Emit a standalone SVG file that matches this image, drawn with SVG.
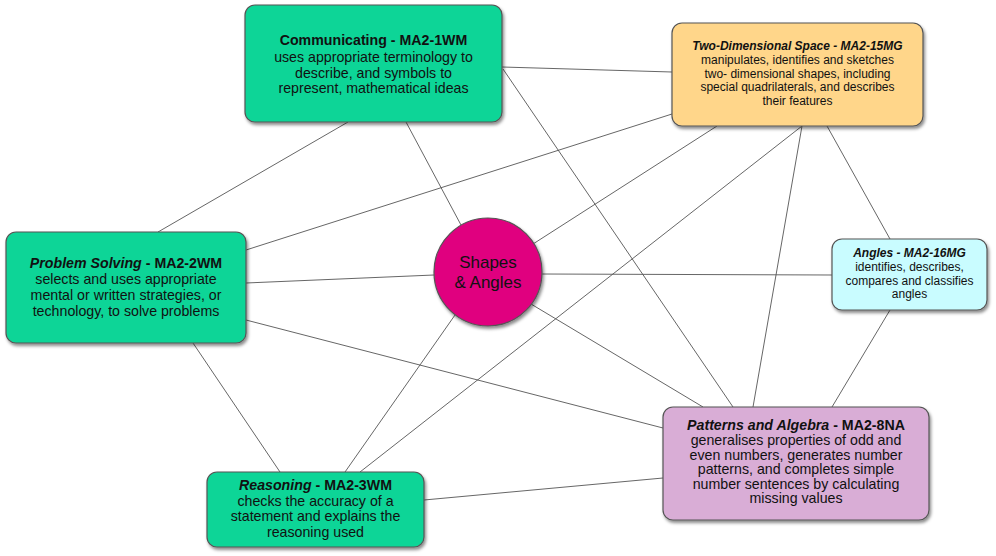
<svg xmlns="http://www.w3.org/2000/svg" width="996" height="556" viewBox="0 0 996 556">
<defs>
<filter id="sh" x="-10%" y="-10%" width="125%" height="130%">
<feDropShadow dx="1.5" dy="2.5" stdDeviation="1.8" flood-color="#000" flood-opacity="0.45"/>
</filter>
<style>
.box{stroke:#555;stroke-width:1.2;filter:url(#sh)}
.green{fill:#11D597}
.orange{fill:#FFD68A}
.cyan{fill:#C9FCFF}
.purple{fill:#D9ADD6}
.pink{fill:#E0007F}
text{font-family:"Liberation Sans",Arial,sans-serif;fill:#111;text-anchor:middle}
.t13{font-size:14.2px}
.t12{font-size:12px}
.b{font-weight:bold}
.bi{font-weight:bold;font-style:italic}
.c{font-size:17px}
#connectors line{stroke:#555;stroke-width:0.9}
</style>
</defs>
<rect width="996" height="556" fill="#fff"/>
<g id="connectors">
<line x1="348" y1="122" x2="158" y2="232"/>
<line x1="406" y1="122" x2="461" y2="225"/>
<line x1="502" y1="67" x2="672" y2="72"/>
<line x1="503" y1="69" x2="733" y2="407"/>
<line x1="672" y1="114" x2="246" y2="250"/>
<line x1="717" y1="126" x2="533" y2="244"/>
<line x1="802" y1="126" x2="360" y2="472"/>
<line x1="802" y1="126" x2="753" y2="407"/>
<line x1="827" y1="126" x2="890" y2="239"/>
<line x1="246" y1="283" x2="434" y2="275"/>
<line x1="246" y1="320" x2="663" y2="428"/>
<line x1="193" y1="343" x2="280" y2="472"/>
<line x1="542" y1="274" x2="832" y2="275"/>
<line x1="531" y1="304" x2="703" y2="407"/>
<line x1="455" y1="315" x2="345" y2="472"/>
<line x1="890" y1="310" x2="832" y2="407"/>
<line x1="424" y1="500" x2="663" y2="478"/>
</g>
<g id="communicating">
<rect class="box green" x="245" y="5" width="257" height="117" rx="10"/>
<text class="t13" x="373.5" y="45"><tspan class="b">Communicating - MA2-1WM</tspan><tspan x="373.5" y="61.5">uses appropriate terminology to</tspan><tspan x="373.5" y="77.5">describe, and symbols to</tspan><tspan x="373.5" y="93">represent, mathematical ideas</tspan></text>
</g>
<g id="two-dimensional">
<rect class="box orange" x="672" y="23" width="251" height="103" rx="10"/>
<text class="t12" x="797.5" y="50"><tspan class="bi">Two-Dimensional Space - MA2-15MG</tspan><tspan x="797.5" y="64">manipulates, identifies and sketches</tspan><tspan x="797.5" y="77.5">two- dimensional shapes, including</tspan><tspan x="797.5" y="91">special quadrilaterals, and describes</tspan><tspan x="797.5" y="105">their features</tspan></text>
</g>
<g id="problem-solving">
<rect class="box green" x="6" y="232" width="240" height="111" rx="10"/>
<text class="t13" x="126" y="268"><tspan class="bi">Problem Solving</tspan><tspan class="b"> - MA2-2WM</tspan><tspan x="126" y="284">selects and uses appropriate</tspan><tspan x="126" y="300">mental or written strategies, or</tspan><tspan x="126" y="316">technology, to solve problems</tspan></text>
</g>
<g id="shapes-angles">
<circle class="box pink" cx="488" cy="272" r="54"/>
<text class="c" x="488" y="268">Shapes<tspan x="488" y="288">&amp; Angles</tspan></text>
</g>
<g id="angles">
<rect class="box cyan" x="832" y="239" width="155" height="71" rx="10"/>
<text class="t12" x="909.5" y="257"><tspan class="bi">Angles - MA2-16MG</tspan><tspan x="909.5" y="270.5">identifies, describes,</tspan><tspan x="909.5" y="284.5">compares and classifies</tspan><tspan x="909.5" y="298">angles</tspan></text>
</g>
<g id="patterns">
<rect class="box purple" x="663" y="407" width="266" height="113" rx="10"/>
<text class="t13" x="796" y="430"><tspan class="bi">Patterns and Algebra</tspan><tspan class="b"> - MA2-8NA</tspan><tspan x="796" y="445">generalises properties of odd and</tspan><tspan x="796" y="459.5">even numbers, generates number</tspan><tspan x="796" y="474">patterns, and completes simple</tspan><tspan x="796" y="488.5">number sentences by calculating</tspan><tspan x="796" y="503">missing values</tspan></text>
</g>
<g id="reasoning">
<rect class="box green" x="207" y="472" width="217" height="75" rx="10"/>
<text class="t13" x="315.5" y="490"><tspan class="bi">Reasoning</tspan><tspan class="b"> - MA2-3WM</tspan><tspan x="315.5" y="505.5">checks the accuracy of a</tspan><tspan x="315.5" y="521">statement and explains the</tspan><tspan x="315.5" y="536.5">reasoning used</tspan></text>
</g>
</svg>
